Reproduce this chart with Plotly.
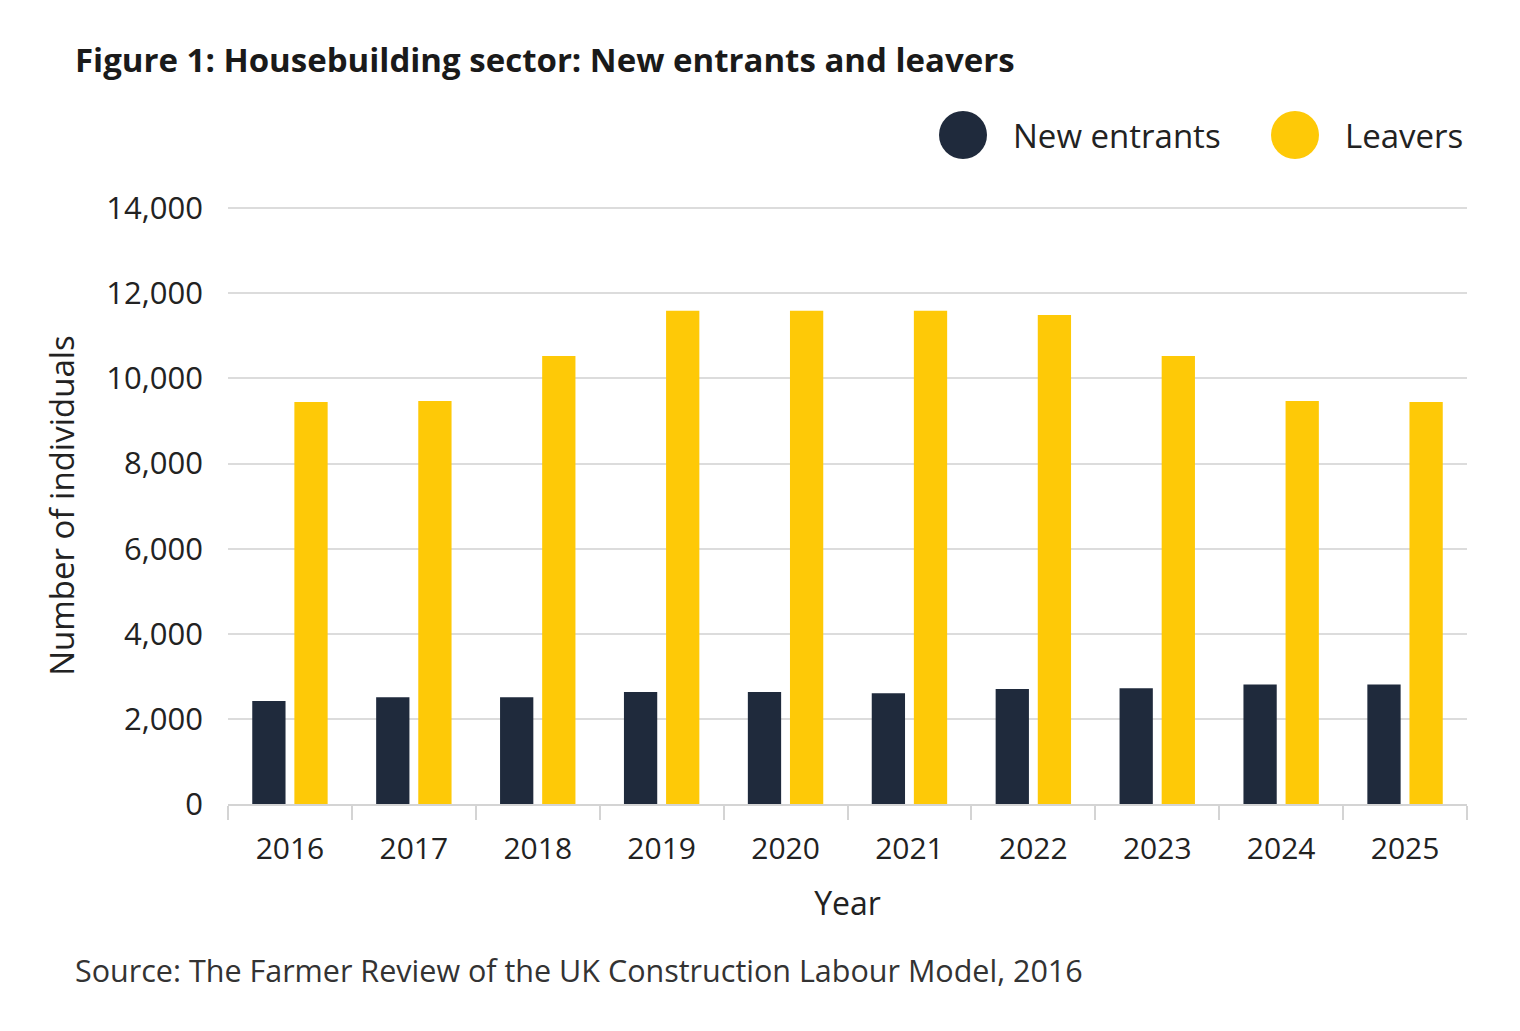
import plotly.graph_objects as go

years = ["2016", "2017", "2018", "2019", "2020", "2021", "2022", "2023", "2024", "2025"]
new_entrants = [2420, 2510, 2510, 2630, 2630, 2600, 2700, 2720, 2810, 2810]
leavers = [9450, 9470, 10530, 11590, 11590, 11590, 11490, 10530, 9470, 9450]
y_ticks = [0, 2000, 4000, 6000, 8000, 10000, 12000, 14000]
y_tick_labels = ["0", "2,000", "4,000", "6,000", "8,000", "10,000", "12,000", "14,000"]

NE_COLOR = "#1f2a3c"
L_COLOR = "#fec907"
TXT = "#222222"
FONT = "Open Sans"

W, H = 1520, 1031
OFF = 8  # page body margin
L, T = 228 - OFF, 207 - OFF
pw, ph = 1239, 597
R, B = W - L - pw, H - T - ph

def px(x):
    return (x - OFF - L) / pw

def py(y):
    return (T + ph - (y - OFF)) / ph

fig = go.Figure()
fig.add_trace(go.Bar(x=years, y=new_entrants, name="New entrants",
                     marker=dict(color=NE_COLOR, line=dict(width=0)), showlegend=False))
fig.add_trace(go.Bar(x=years, y=leavers, name="Leavers",
                     marker=dict(color=L_COLOR, line=dict(width=0)), showlegend=False))

fig.update_layout(
    width=W, height=H,
    margin=dict(l=L, r=R, t=T, b=B, autoexpand=False),
    paper_bgcolor="white", plot_bgcolor="white",
    barmode="group", bargap=0.32, bargroupgap=0.21,
    font=dict(family=FONT, color=TXT, size=28),
    showlegend=False,
)
fig.update_xaxes(
    showline=True, linecolor="#d4d4d4", linewidth=2,
    ticks="outside", tickson="boundaries", ticklen=14, tickcolor="#d4d4d4", tickwidth=2,
    tickfont=dict(size=30, color=TXT), ticklabelstandoff=17,
    title=dict(text="Year", font=dict(size=32, color=TXT), standoff=26),
    showgrid=False,
)
fig.update_yaxes(
    range=[0, 14030], tickvals=y_ticks, ticktext=y_tick_labels,
    showgrid=True, gridcolor="#dcdcdc", gridwidth=2,
    zeroline=False, showline=False,
    ticks="", ticklabelstandoff=24,
    tickfont=dict(size=31, color=TXT),
    title=dict(text="Number of individuals", font=dict(size=33, color=TXT), standoff=21),
)

# Title
fig.add_annotation(text="<b>Figure 1: Housebuilding sector: New entrants and leavers</b>",
                   xref="paper", yref="paper", x=px(73), y=py(60), xanchor="left", yanchor="middle",
                   showarrow=False, font=dict(size=33, color="#1a1a1a", family=FONT))
# Source
fig.add_annotation(text="Source: The Farmer Review of the UK Construction Labour Model, 2016",
                   xref="paper", yref="paper", x=px(73), y=py(970), xanchor="left", yanchor="middle",
                   showarrow=False, font=dict(size=30.5, color="#333333", family=FONT))

# Legend (circles + labels)
r = 24
for cx, color, label, tx in [(963, NE_COLOR, "New entrants", 1011), (1295, L_COLOR, "Leavers", 1343)]:
    fig.add_shape(type="circle", xref="paper", yref="paper",
                  x0=px(cx - r), x1=px(cx + r), y0=py(135 + r), y1=py(135 - r),
                  fillcolor=color, line=dict(width=0))
    fig.add_annotation(text=label, xref="paper", yref="paper", x=px(tx), y=py(136),
                       xanchor="left", yanchor="middle", showarrow=False,
                       font=dict(size=33, color=TXT, family=FONT))

fig.write_html("out.html")
